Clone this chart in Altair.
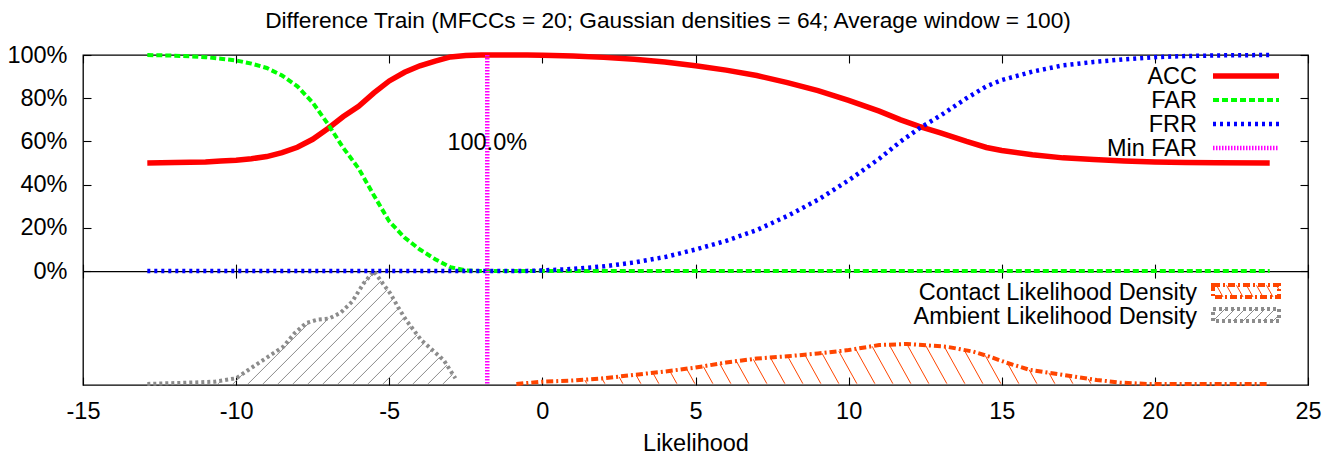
import altair as alt
import numpy as np
import pandas as pd

# ---------------- data ----------------
TITLE = "Difference Train (MFCCs = 20; Gaussian densities = 64; Average window = 100)"
X_TITLE = "Likelihood"
X_TICKS = [-15, -10, -5, 0, 5, 10, 15, 20, 25]
Y_TICKS = [0, 20, 40, 60, 80, 100]

RATE_X = [-12.9, -12, -11, -10.5, -10, -9.5, -9, -8.5, -8, -7.5, -7, -6.5, -6, -5.5, -5,
          -4.5, -4, -3.5, -3, -2.5, -2, -1.5, -1, -0.5, 0, 1, 2, 3, 4, 5, 6, 7, 8, 9, 10,
          11, 11.7, 12.3, 13, 13.85, 14.5, 15, 16, 17, 18, 19, 20, 21, 22, 23.75]
ACC = [50, 50.2, 50.5, 50.9, 51.3, 52, 53, 54.8, 57.3, 61, 66, 71.5, 76.3, 82.5, 88,
       92, 95, 97.2, 99.1, 99.8, 100, 100, 100, 99.95, 99.85, 99.5, 98.9, 98, 96.8, 95,
       93, 90.5, 87.2, 83.5, 79, 74, 70, 67, 64, 60, 57.2, 55.8, 53.8, 52.4, 51.6, 51, 50.5,
       50.3, 50.1, 50]
FAR = [100, 99.7, 99, 98.3, 97.5, 96, 94, 90.5, 85.5, 78, 68, 57, 47.5, 35, 23,
       15.5, 10, 5.5, 1.8, 0.3, 0, 0, 0, 0, 0, 0, 0, 0, 0, 0, 0, 0, 0, 0, 0,
       0, 0, 0, 0, 0, 0, 0, 0, 0, 0, 0, 0, 0, 0, 0]
FRR = [0, 0, 0, 0, 0, 0, 0, 0, 0, 0, 0, 0, 0, 0, 0,
       0, 0, 0, 0, 0, 0, 0, 0, 0.1, 0.3, 1, 2.2, 4, 6.5, 10, 14, 19, 25.5, 33, 42,
       52, 60, 66, 72, 80, 85.5, 88.4, 92.3, 95.2, 96.8, 98, 99, 99.5, 99.8, 100]

MIN_FAR_X = -1.8
MIN_FAR_TEXT = "100.0%"
MIN_FAR_TEXT_Y = 60

# densities, relative to the ambient peak (= 1)
AMB_X = [-12.9, -11.7, -10.7, -10.0, -9.46, -8.96, -8.46, -8.09, -7.71, -7.34, -6.96, -6.59,
         -6.21, -5.84, -5.5, -5.21, -4.96, -4.71, -4.46, -4.21, -3.96, -3.59, -3.22, -2.84]
AMB_D = [0.0, 0.01, 0.02, 0.05, 0.15, 0.24, 0.33, 0.45, 0.54, 0.57, 0.58, 0.63,
         0.73, 0.89, 1.0, 0.89, 0.80, 0.68, 0.57, 0.48, 0.39, 0.30, 0.21, 0.05]
CON_X = [-0.85, 0, 1, 2, 3, 4, 5, 6, 7, 8, 9, 10, 11, 11.9, 13.2, 14.07, 14.6, 15.16,
         15.92, 17.0, 18.1, 18.86, 19.73, 21, 22.5, 23.75]
CON_D = [0.0, 0.02, 0.03, 0.05, 0.08, 0.11, 0.145, 0.19, 0.225, 0.245, 0.27, 0.30, 0.345,
         0.354, 0.33, 0.286, 0.242, 0.188, 0.124, 0.08, 0.035, 0.012, 0.0, 0.0, 0.0, 0.0]

RATE_NAMES = ["ACC", "FAR", "FRR", "Min FAR"]
DENS_NAMES = ["Contact Likelihood Density", "Ambient Likelihood Density"]

# ---------------- layout / style ----------------
W, H = 1225, 330
X_DOM = [-15, 25]
Y_DOM = [-52.7, 100]
DENS_BASE = -52.2
DENS_SCALE = 52.2
FONT = "Liberation Sans"
FS = 23.5
TITLE_FS = 22.7

C_ACC, C_FAR, C_FRR, C_MIN = "#ff0000", "#00ff00", "#0000ff", "#ff00ff"
C_CON, C_AMB = "#ff4500", "#8c8c8c"

PX_X = W / (X_DOM[1] - X_DOM[0])
PX_Y = H / (Y_DOM[1] - Y_DOM[0])
ZERO_PX = (Y_DOM[1] - 0) * PX_Y


def hatch_segments(Xa, Ytop, Ybot, slope, spacing):
    segs = []
    span = (Ybot - np.min(Ytop)) / abs(slope)
    k0 = int(np.floor((Xa[0] - span - spacing) / spacing))
    k1 = int(np.ceil((Xa[-1] + span + spacing) / spacing))
    for k in range(k0, k1 + 1):
        X0 = k * spacing
        Yl = Ybot + slope * (Xa - X0)
        inside = (Yl >= Ytop) & (Yl <= Ybot)
        if not inside.any():
            continue
        edges = np.flatnonzero(np.diff(np.concatenate([[0], inside.astype(int), [0]])))
        for a, b in zip(edges[::2], edges[1::2] - 1):
            if b - a < 8:
                continue
            segs.append((Xa[a], Yl[a], Xa[b], Yl[b]))
    return segs


def dens_hatch(xs, ds, slope, spacing):
    xs = np.asarray(xs, float)
    vs = DENS_BASE + DENS_SCALE * np.asarray(ds, float)
    Xc = (xs - X_DOM[0]) * PX_X
    Yc = (Y_DOM[1] - vs) * PX_Y
    Yb = (Y_DOM[1] - DENS_BASE) * PX_Y
    Xa = np.arange(Xc[0], Xc[-1], 0.25)
    Ya = np.interp(Xa, Xc, Yc)
    rows = []
    for xa, ya, xb, yb in hatch_segments(Xa, Ya, Yb, slope, spacing):
        rows.append({"x1": xa / PX_X + X_DOM[0], "y1": Y_DOM[1] - ya / PX_Y,
                     "x2": xb / PX_X + X_DOM[0], "y2": Y_DOM[1] - yb / PX_Y})
    return pd.DataFrame(rows)


def box_hatch(x0, x1, y0, y1, slope, spacing):
    Xa = np.arange(x0, x1, 0.25)
    Ya = np.full_like(Xa, y0)
    rows = []
    for xa, ya, xb, yb in hatch_segments(Xa, Ya, y1, slope, spacing):
        rows.append({"x1": xa, "y1": ya, "x2": xb, "y2": yb})
    return pd.DataFrame(rows)


xs = alt.Scale(domain=X_DOM, nice=False, zero=False)
ys = alt.Scale(domain=Y_DOM, nice=False, zero=False)


def tick_axis(orient, values, offset, size, domain=False):
    return alt.Axis(orient=orient, values=values, offset=offset, labels=False, ticks=True,
                    tickSize=size, tickColor="black", tickWidth=1.1, domain=domain,
                    domainColor="black", domainWidth=1.3, grid=False, title=None)


ax_xlab = alt.Axis(orient="bottom", values=X_TICKS, ticks=False, tickSize=0, domain=False,
                   grid=False, labelExpr="'' + datum.value", labelFont=FONT, labelFontSize=FS,
                   labelColor="black", labelPadding=14, labelFlush=False, labelOverlap=False,
                   title=X_TITLE, titleFont=FONT, titleFontSize=FS, titleFontWeight="normal",
                   titleColor="black", titleBaseline="alphabetic", titleX=W / 2, titleY=65,
                   titleAlign="center")
ax_ylab = alt.Axis(orient="left", values=Y_TICKS, ticks=False, tickSize=0, domain=False,
                   grid=False, labelExpr="datum.value + '%'", labelFont=FONT, labelFontSize=FS,
                   labelColor="black", labelPadding=16, labelFlush=False, labelOverlap=False,
                   title=None)

rates = pd.DataFrame({"x": RATE_X, "ACC": ACC, "FAR": FAR, "FRR": FRR})
amb = pd.DataFrame({"x": AMB_X, "v": [DENS_BASE + DENS_SCALE * d for d in AMB_D]})
con = pd.DataFrame({"x": CON_X, "v": [DENS_BASE + DENS_SCALE * d for d in CON_D]})

amb_h = dens_hatch(AMB_X, AMB_D, -1.0, 15)
con_h = dens_hatch(CON_X, CON_D, 1.8, 18)


def seg_layer(df, color):
    return alt.Chart(df).mark_rule(color=color, strokeWidth=1).encode(
        x=alt.X("x1:Q", scale=xs, axis=None), x2="x2:Q",
        y=alt.Y("y1:Q", scale=ys, axis=None), y2="y2:Q")


layers = [
    seg_layer(amb_h, C_AMB),
    seg_layer(con_h, C_CON),
    alt.Chart(con).mark_line(color=C_CON, strokeWidth=4, strokeDash=[7, 3, 2, 3]).encode(
        x=alt.X("x:Q", scale=xs, axis=tick_axis("bottom", X_TICKS, -(H - ZERO_PX), 7)),
        y=alt.Y("v:Q", scale=ys, axis=None)),
    alt.Chart(amb).mark_line(color=C_AMB, strokeWidth=4, strokeDash=[3, 3]).encode(
        x=alt.X("x:Q", scale=xs, axis=None), y=alt.Y("v:Q", scale=ys, axis=None)),
    alt.Chart(rates).mark_line(color=C_ACC, strokeWidth=5.5).encode(
        x=alt.X("x:Q", scale=xs, axis=ax_xlab), y=alt.Y("ACC:Q", scale=ys, axis=ax_ylab)),
    alt.Chart(rates).mark_line(color=C_FAR, strokeWidth=4, strokeDash=[6, 3]).encode(
        x=alt.X("x:Q", scale=xs, axis=tick_axis("top", X_TICKS, -H, 8)),
        y=alt.Y("FAR:Q", scale=ys, axis=tick_axis("right", Y_TICKS, -W, 8))),
    alt.Chart(rates).mark_line(color=C_FRR, strokeWidth=4.5, strokeDash=[3, 4]).encode(
        x=alt.X("x:Q", scale=xs, axis=tick_axis("bottom", X_TICKS, -H, 8)),
        y=alt.Y("FRR:Q", scale=ys, axis=tick_axis("left", Y_TICKS, -W, 8))),
    alt.Chart(pd.DataFrame({"x": [MIN_FAR_X]})).mark_rule(
        color=C_MIN, strokeWidth=4.5, strokeDash=[1.5, 1.5]).encode(
        x=alt.X("x:Q", scale=xs, axis=tick_axis("top", X_TICKS, -ZERO_PX, 7, domain=True))),
    alt.Chart(pd.DataFrame({"x": [MIN_FAR_X], "y": [MIN_FAR_TEXT_Y], "t": [MIN_FAR_TEXT]})).mark_text(
        font=FONT, fontSize=FS, align="center", baseline="middle", dy=2, color="black").encode(
        x=alt.X("x:Q", scale=xs, axis=None), y=alt.Y("y:Q", scale=ys, axis=None), text="t:N"),
]

# ---- title (text), centred on the page ----
layers.append(alt.Chart(pd.DataFrame({"t": [TITLE]})).mark_text(
    font=FONT, fontSize=TITLE_FS, align="center", baseline="alphabetic", color="black").encode(
    x=alt.value(585), y=alt.value(-27), text="t:N"))

# ---- keys (pixel layout) ----
KEY_TEXT_X = 1114
KEY_S0, KEY_S1 = 1130, 1196
ROW = 24
top_rows = pd.DataFrame({"t": RATE_NAMES, "y": [29 + ROW * i for i in range(len(RATE_NAMES))]})
bot_rows = pd.DataFrame({"t": DENS_NAMES, "y": [245 + ROW * i for i in range(len(DENS_NAMES))]})
for df in (top_rows, bot_rows):
    layers.append(alt.Chart(df).mark_text(font=FONT, fontSize=FS, align="right",
                                          baseline="alphabetic", color="black").encode(
        x=alt.value(KEY_TEXT_X), y=alt.Y("y:Q", scale=None), text="t:N"))

styles = [(C_ACC, 5.5, None), (C_FAR, 4, [6, 3]), (C_FRR, 4.5, [3, 4]), (C_MIN, 4.5, [1.5, 1.5])]
for i, (c, w, d) in enumerate(styles):
    kw = dict(color=c, strokeWidth=w)
    if d is not None:
        kw["strokeDash"] = d
    yy = 29 + ROW * i - 8
    layers.append(alt.Chart(pd.DataFrame({"a": [0]})).mark_rule(**kw).encode(
        x=alt.value(KEY_S0), x2=alt.value(KEY_S1), y=alt.value(yy)))

box_styles = [(C_CON, [7, 3, 2, 3], 1.8, 10), (C_AMB, [3, 3], -1.0, 10)]
for i, (c, d, slope, sp) in enumerate(box_styles):
    yc = 245 + ROW * i - 9
    y0, y1 = yc - 6, yc + 6
    bh = box_hatch(KEY_S0, KEY_S1, y0, y1, slope, sp)
    layers.append(alt.Chart(bh).mark_rule(color=c, strokeWidth=1).encode(
        x=alt.X("x1:Q", scale=None), x2="x2:Q", y=alt.Y("y1:Q", scale=None), y2="y2:Q"))
    layers.append(alt.Chart(pd.DataFrame({"a": [0]})).mark_rect(
        fillOpacity=0, stroke=c, strokeWidth=4, strokeDash=d).encode(
        x=alt.value(KEY_S0), x2=alt.value(KEY_S1), y=alt.value(y0), y2=alt.value(y1)))

chart = alt.layer(*layers).resolve_axis(x="independent", y="independent").properties(
    width=W, height=H,
    autosize=alt.AutoSizeParams(type="none"),
    padding={"left": 75, "top": 47, "right": 18, "bottom": 71},
    background="white",
).configure_view(stroke="black", strokeWidth=1.3)

chart.save("out.html", embed_options={"renderer": "svg", "actions": False})
